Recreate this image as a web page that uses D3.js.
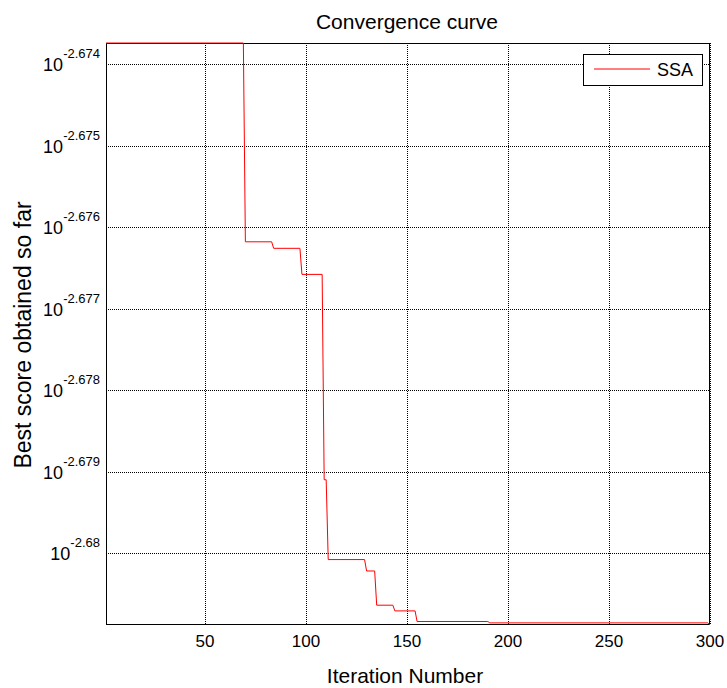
<!DOCTYPE html>
<html>
<head>
<meta charset="utf-8">
<script src="https://cdn.jsdelivr.net/npm/d3@7"></script>
<style>
    body { margin: 0; background: #fff; }
    text { font-family: Arial, "Liberation Sans", Helvetica, sans-serif; fill: #000; }
</style>
</head>
<body>
<script>
// convergence points (iteration, log10 of best score)
var iterations = [1, 69, 70, 83, 84, 97, 98, 108, 109, 110, 111, 129, 130, 134, 135, 143, 144, 154, 155, 190, 191, 299, 300];
var bestScoreExp = [-2.67374, -2.67374, -2.67618, -2.67618, -2.67626, -2.67626, -2.67658, -2.67658,
    -2.67910, -2.67910, -2.68008, -2.68008, -2.68022, -2.68022, -2.68064, -2.68064,
    -2.68071, -2.68071, -2.68084, -2.68084, -2.680857, -2.680857, -2.680883];

var xTicks = [50, 100, 150, 200, 250, 300];
var yTickExp = [-2.674, -2.675, -2.676, -2.677, -2.678, -2.679, -2.68];

var seriesName = 'SSA';

var width = 727,
    height = 688;

var margin = { top: 43, right: 17, bottom: 63, left: 106 };

var plotW = width - margin.left - margin.right,
    plotH = height - margin.top - margin.bottom;

var data = iterations.map(function(it, i) {
    return { x: it, y: Math.pow(10, bestScoreExp[i]) };
});

var svg = d3.select('body').append('svg')
    .attr('width', width)
    .attr('height', height);

var x = d3.scaleLinear()
    .domain([1, 300])
    .range([margin.left, margin.left + plotW]);

var y = d3.scaleLog()
    .domain([d3.min(data, function(d) { return d.y; }), d3.max(data, function(d) { return d.y; })])
    .range([margin.top + plotH, margin.top]);

// grid lines, dotted
var grid = svg.append('g').attr('class', 'grid');

grid.selectAll('.vgrid')
    .data(xTicks)
    .enter().append('line')
        .attr('x1', function(d) { return Math.round(x(d)) + 0.5; })
        .attr('x2', function(d) { return Math.round(x(d)) + 0.5; })
        .attr('y1', margin.top)
        .attr('y2', margin.top + plotH)
        .attr('stroke', '#000')
        .attr('stroke-dasharray', '1,1');

grid.selectAll('.hgrid')
    .data(yTickExp)
    .enter().append('line')
        .attr('x1', margin.left)
        .attr('x2', margin.left + plotW)
        .attr('y1', function(d) { return Math.round(y(Math.pow(10, d))) + 0.5; })
        .attr('y2', function(d) { return Math.round(y(Math.pow(10, d))) + 0.5; })
        .attr('stroke', '#000')
        .attr('stroke-dasharray', '1,1');

// box around the axes
svg.append('rect')
    .attr('x', margin.left + 0.5)
    .attr('y', margin.top + 0.5)
    .attr('width', plotW - 1)
    .attr('height', plotH - 1)
    .attr('fill', 'none')
    .attr('stroke', '#000')
    .attr('stroke-width', 1);

// the curve
var line = d3.line()
    .x(function(d) { return x(d.x); })
    .y(function(d) { return y(d.y); });

svg.append('path')
    .datum(data)
    .attr('d', line)
    .attr('fill', 'none')
    .attr('stroke', '#ff0000')
    .attr('stroke-width', 1);

// x tick labels
svg.append('g')
    .selectAll('text')
    .data(xTicks)
    .enter().append('text')
        .attr('x', function(d) { return x(d); })
        .attr('y', 647)
        .attr('text-anchor', 'middle')
        .style('font-size', '17px')
        .text(function(d) { return d; });

// y tick labels as 10^exp
var yLabels = svg.append('g')
    .selectAll('text')
    .data(yTickExp)
    .enter().append('text')
        .attr('x', 100)
        .attr('y', function(d) { return y(Math.pow(10, d)) + 7; })
        .attr('text-anchor', 'end')
        .style('font-size', '18px');

yLabels.append('tspan')
    .text('10');

yLabels.append('tspan')
    .attr('dy', -13)
    .style('font-size', '13px')
    .text(function(d) { return String(d); });

// title and axis labels
svg.append('text')
    .attr('x', 407)
    .attr('y', 29)
    .attr('text-anchor', 'middle')
    .style('font-size', '21px')
    .text('Convergence curve');

svg.append('text')
    .attr('x', 405)
    .attr('y', 683)
    .attr('text-anchor', 'middle')
    .style('font-size', '21px')
    .text('Iteration Number');

svg.append('text')
    .attr('transform', 'translate(31, 335) rotate(-90)')
    .attr('text-anchor', 'middle')
    .style('font-size', '23px')
    .text('Best score obtained so far');

// legend
var legend = svg.append('g')
    .attr('class', 'legend');

legend.append('rect')
    .attr('x', 583.5)
    .attr('y', 54.5)
    .attr('width', 119)
    .attr('height', 31)
    .attr('fill', '#fff')
    .attr('stroke', '#000');

legend.append('line')
    .attr('x1', 594)
    .attr('x2', 650)
    .attr('y1', 69)
    .attr('y2', 69)
    .attr('stroke', '#ff0000')
    .attr('stroke-width', 1.2);

legend.append('text')
    .attr('x', 657)
    .attr('y', 76)
    .style('font-size', '18px')
    .text(seriesName);
</script>
</body>
</html>
